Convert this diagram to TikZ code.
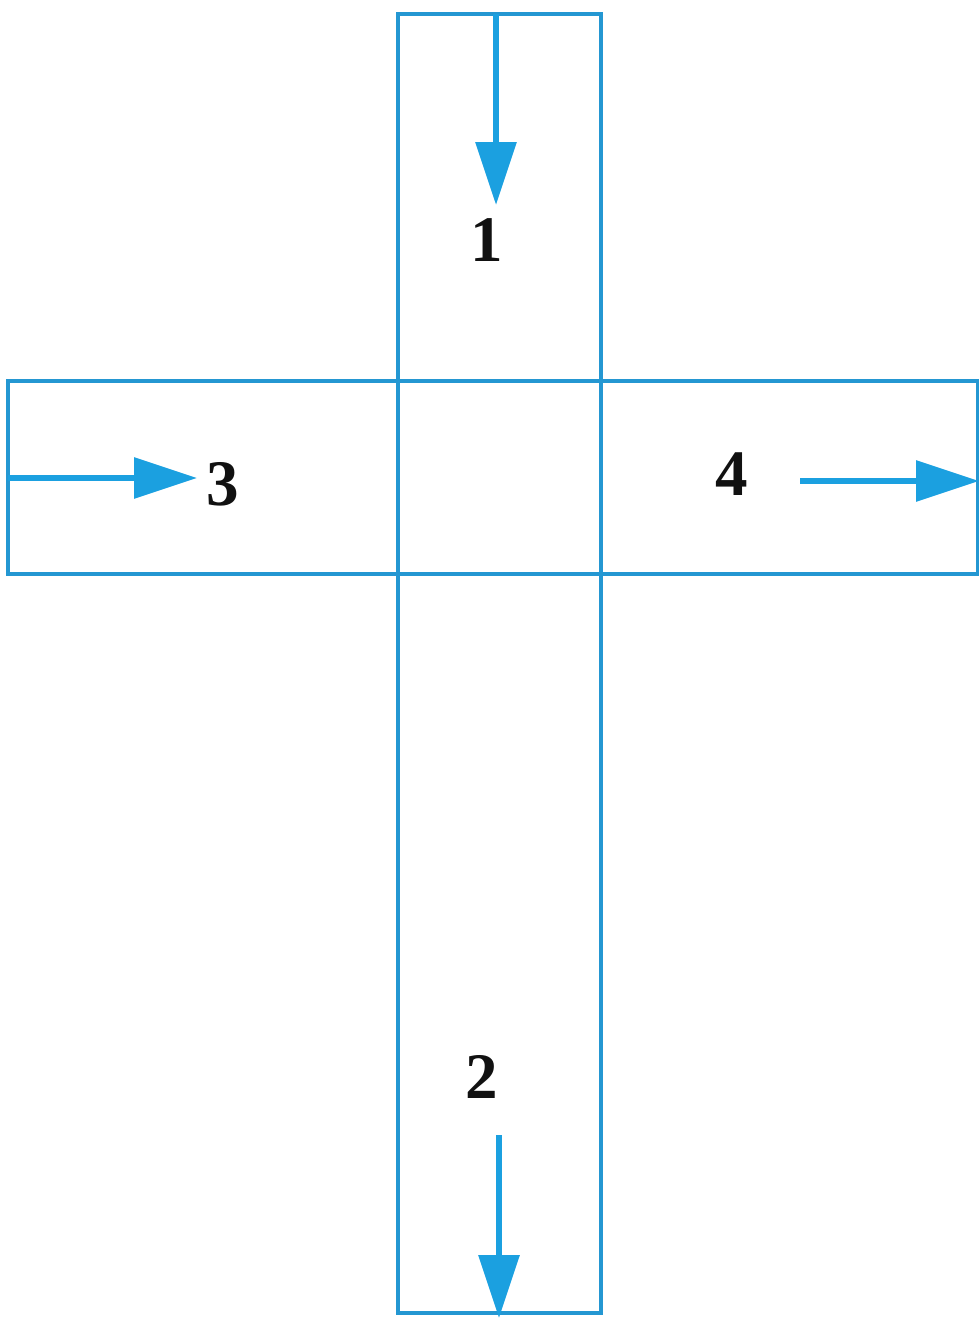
\documentclass[tikz,border=0pt]{standalone}
\usepackage{fontspec}
\setmainfont{Liberation Serif}
\usepackage{xcolor}
\usetikzlibrary{arrows.meta,positioning}
\definecolor{lane}{HTML}{2497D2}
\definecolor{flow}{HTML}{1BA0E0}
\definecolor{ink}{HTML}{111111}

\begin{document}
\begin{tikzpicture}[
  x=0.02cm,y=-0.02cm,
  box/.style={draw=lane,line width=2.2pt},
  fl/.style={-{Triangle[length=12.6mm,width=8mm]},draw=flow,line width=3.6pt},
  num/.style={font=\fontsize{37}{40}\selectfont\bfseries,text=ink,inner sep=0pt},
]
\useasboundingbox (0,0) rectangle (979,1327);
% the two lanes
\draw[box] (398,14) rectangle (601,1313);
\draw[box] (8,381) rectangle (978,574);
% labels
\node[num] (n1) at (487,240) {1};
\node[num] (n2) at (482,1077) {2};
\node[num] (n3) at (223,484) {3};
\node[num] (n4) at (732,474) {4};
% ends of the flows
\coordinate (in1) at (496,14);
\coordinate (out1) at (496,205);
\coordinate (in3) at (8,478);
\coordinate (out3) at (197,478);
\coordinate (in4) at (800,481);
\coordinate (out4) at (979,481);
\coordinate (in2) at (499,1135);
\coordinate (out2) at (499,1318);
\draw[fl] (in1) -- (out1);
\draw[fl] (in3) -- (out3);
\draw[fl] (in4) -- (out4);
\draw[fl] (in2) -- (out2);
\end{tikzpicture}
\end{document}
